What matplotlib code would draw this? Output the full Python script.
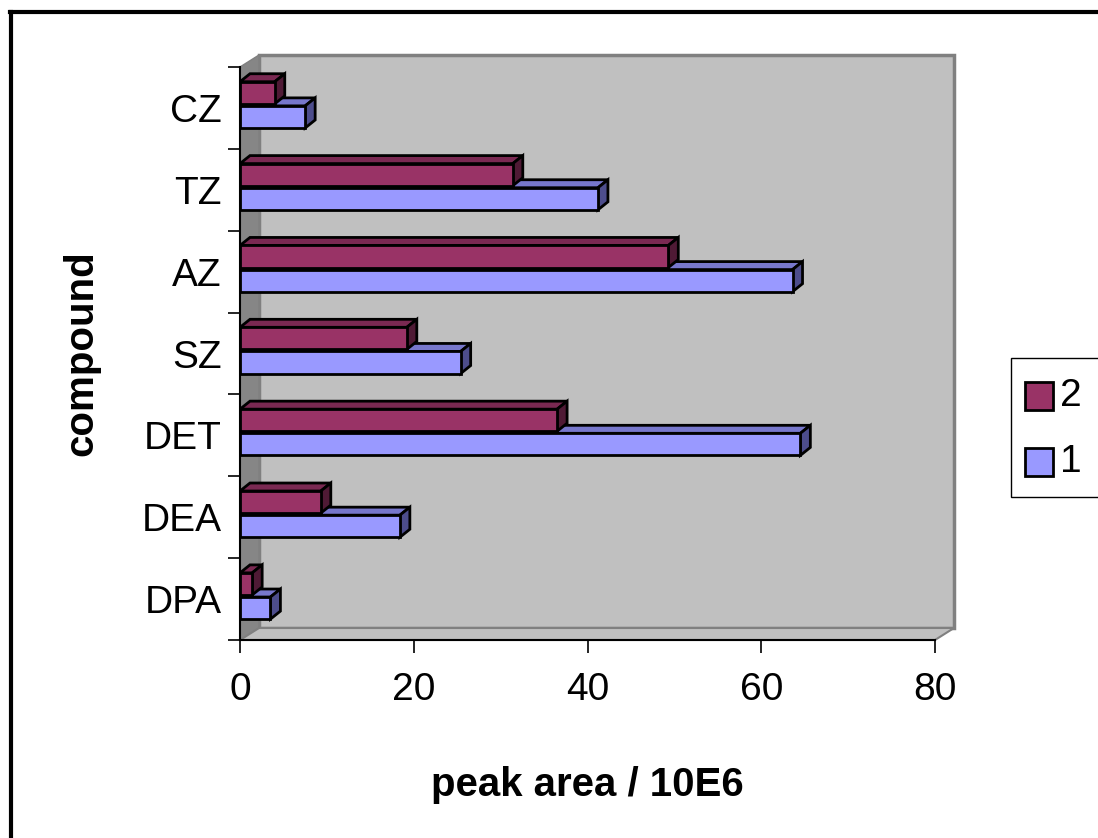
import matplotlib
matplotlib.use("Agg")
import matplotlib.pyplot as plt
from matplotlib.patches import Polygon, Rectangle
from matplotlib.lines import Line2D

# data (bottom to top)
compounds = ["DPA", "DEA", "DET", "SZ", "AZ", "TZ", "CZ"]
series_1 = [3.5, 18.4, 64.5, 25.4, 63.6, 41.2, 7.5]
series_2 = [1.4, 9.3, 36.5, 19.2, 49.3, 31.4, 4.0]
series_names = ["1", "2"]
x_ticks = [0, 20, 40, 60, 80]

plt.rcParams['font.family'] = ['Liberation Sans', 'DejaVu Sans']

W, H = 1098, 838
fig = plt.figure(figsize=(W / 100, H / 100), dpi=100)

# front plane of the plot area in pixels
left, right, top, bottom = 240, 935, 67, 640
ax = fig.add_axes([left / W, 1 - bottom / H, (right - left) / W, (bottom - top) / H])
ax.set_xlim(0, 80)
ax.set_ylim(0, len(compounds))
ax.patch.set_visible(False)

# pixel -> data unit factors
ux = 80 / (right - left)
uy = len(compounds) / (bottom - top)

def poly(pts, fc, ec, lw, z):
    ax.add_patch(Polygon(pts, closed=True, facecolor=fc, edgecolor=ec,
                         linewidth=lw, zorder=z, clip_on=False))

# walls
wx, wy = 19 * ux, 12 * uy
n = len(compounds)
poly([(wx, wy), (80 + wx, wy), (80 + wx, n + wy), (wx, n + wy)], "#c0c0c0", "#808080", 2.5, 0)
poly([(0, 0), (0, n), (wx, n + wy), (wx, wy)], "#868686", "#808080", 1, 1)
poly([(0, 0), (80, 0), (80 + wx, wy), (wx, wy)], "#c0c0c0", "#808080", 1.5, 1)

# 3D bars
dx, dy = 10 * ux, 8 * uy
h = 0.27

def bar3d(y0, v, front, topc, side):
    poly([(0, y0 + h), (v, y0 + h), (v + dx, y0 + h + dy), (dx, y0 + h + dy)], topc, "black", 2, 3)
    poly([(v, y0), (v + dx, y0 + dy), (v + dx, y0 + h + dy), (v, y0 + h)], side, "black", 2, 3)
    ax.barh(y0, v, height=h, left=0, align='edge', color=front, edgecolor="black",
            linewidth=2, zorder=4, clip_on=False)

for i in range(n):
    bar3d(i + 0.255, series_1[i], "#9999ff", "#7777cc", "#4d4d8c")
    bar3d(i + 0.55, series_2[i], "#993366", "#7a2952", "#4f1a35")

# axes styling
for s in ["top", "right"]:
    ax.spines[s].set_visible(False)
for s in ["left", "bottom"]:
    ax.spines[s].set_linewidth(1.5)
    ax.spines[s].set_zorder(5)
ax.set_xticks(x_ticks)
ax.set_xticklabels([str(t) for t in x_ticks])
ax.set_yticks(range(n + 1))
ax.set_yticklabels([])
ax.set_yticks([i + 0.5 for i in range(n)], minor=True)
ax.set_yticklabels(compounds, minor=True)
ax.tick_params(axis='y', which='major', length=9, width=1.2)
ax.tick_params(axis='y', which='minor', length=0, pad=13, labelsize=28)
ax.tick_params(axis='x', length=9, width=1.2, pad=14, labelsize=28)

ax.set_xlabel("peak area / 10E6", fontsize=29, fontweight='bold', labelpad=42)
ax.set_ylabel("compound", fontsize=29, fontweight='bold', labelpad=30)

# legend (manual)
fig.add_artist(Rectangle((1011 / W, 1 - 497 / H), 90 / W, 139 / H, transform=fig.transFigure,
                         facecolor="white", edgecolor="black", linewidth=1))
for name, col, yc in [(series_names[1], "#993366", 396), (series_names[0], "#9999ff", 462)]:
    fig.add_artist(Rectangle((1025 / W, 1 - (yc + 14) / H), 28 / W, 28 / H,
                             transform=fig.transFigure, facecolor=col,
                             edgecolor="black", linewidth=2))
    fig.text(1060 / W, 1 - yc / H, name, fontsize=28, va='center', ha='left')

# outer frame
fig.add_artist(Line2D([10 / W, 1], [1 - 12 / H, 1 - 12 / H], transform=fig.transFigure,
                      color="black", linewidth=3))
fig.add_artist(Line2D([11 / W, 11 / W], [0, 1 - 12 / H], transform=fig.transFigure,
                      color="black", linewidth=3))

fig.savefig("out.png", dpi=100)
